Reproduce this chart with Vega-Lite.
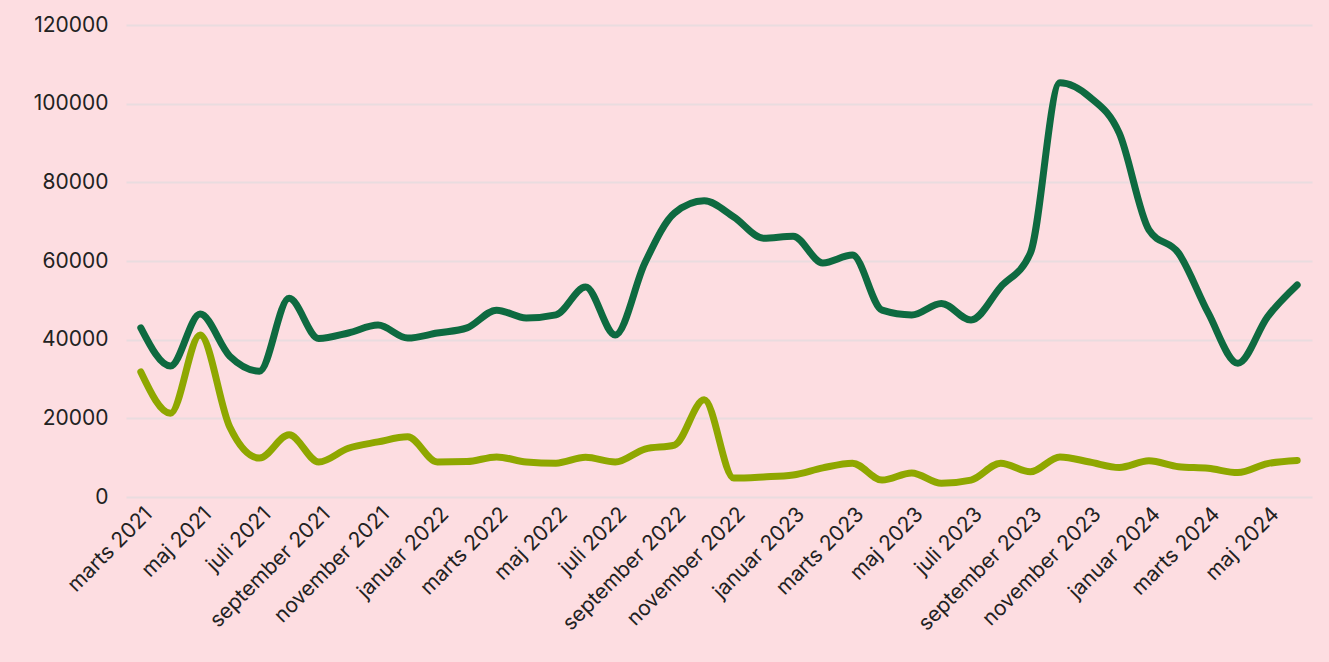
{
  "$schema": "https://vega.github.io/schema/vega-lite/v6.json",
  "width": 1186,
  "height": 472,
  "autosize": {"type": "none"},
  "padding": {"left": 126, "top": 25, "right": 17, "bottom": 165},
  "background": "#fddde1",
  "config": {
    "view": {"stroke": null},
    "font": "Inter",
    "axis": {"labelFont": "Inter", "labelColor": "#222222", "labelFontSize": 21, "domain": false, "ticks": false}
  },
  "data": {
    "values": [
      {"m": "marts 2021", "s": "A", "v": 43000}, {"m": "april 2021", "s": "A", "v": 33300},
      {"m": "maj 2021", "s": "A", "v": 46500}, {"m": "juni 2021", "s": "A", "v": 35800},
      {"m": "juli 2021", "s": "A", "v": 32000}, {"m": "august 2021", "s": "A", "v": 50500},
      {"m": "september 2021", "s": "A", "v": 40300}, {"m": "oktober 2021", "s": "A", "v": 41700},
      {"m": "november 2021", "s": "A", "v": 43700}, {"m": "december 2021", "s": "A", "v": 40400},
      {"m": "januar 2022", "s": "A", "v": 41700}, {"m": "februar 2022", "s": "A", "v": 43000},
      {"m": "marts 2022", "s": "A", "v": 47500}, {"m": "april 2022", "s": "A", "v": 45500},
      {"m": "maj 2022", "s": "A", "v": 46300}, {"m": "juni 2022", "s": "A", "v": 53400},
      {"m": "juli 2022", "s": "A", "v": 41200}, {"m": "august 2022", "s": "A", "v": 59500},
      {"m": "september 2022", "s": "A", "v": 72200}, {"m": "oktober 2022", "s": "A", "v": 75300},
      {"m": "november 2022", "s": "A", "v": 71200}, {"m": "december 2022", "s": "A", "v": 65800},
      {"m": "januar 2023", "s": "A", "v": 66300}, {"m": "februar 2023", "s": "A", "v": 59500},
      {"m": "marts 2023", "s": "A", "v": 61500}, {"m": "april 2023", "s": "A", "v": 47500},
      {"m": "maj 2023", "s": "A", "v": 46300}, {"m": "juni 2023", "s": "A", "v": 49200},
      {"m": "juli 2023", "s": "A", "v": 45000}, {"m": "august 2023", "s": "A", "v": 53400},
      {"m": "september 2023", "s": "A", "v": 62000}, {"m": "oktober 2023", "s": "A", "v": 105300},
      {"m": "november 2023", "s": "A", "v": 101700}, {"m": "december 2023", "s": "A", "v": 92500},
      {"m": "januar 2024", "s": "A", "v": 67900}, {"m": "februar 2024", "s": "A", "v": 62000},
      {"m": "marts 2024", "s": "A", "v": 46800}, {"m": "april 2024", "s": "A", "v": 34000},
      {"m": "maj 2024", "s": "A", "v": 45800}, {"m": "juni 2024", "s": "A", "v": 53900},
      {"m": "marts 2021", "s": "B", "v": 31800}, {"m": "april 2021", "s": "B", "v": 21300},
      {"m": "maj 2021", "s": "B", "v": 41200}, {"m": "juni 2021", "s": "B", "v": 17800},
      {"m": "juli 2021", "s": "B", "v": 9900}, {"m": "august 2021", "s": "B", "v": 15800},
      {"m": "september 2021", "s": "B", "v": 8900}, {"m": "oktober 2021", "s": "B", "v": 12400},
      {"m": "november 2021", "s": "B", "v": 14000}, {"m": "december 2021", "s": "B", "v": 15300},
      {"m": "januar 2022", "s": "B", "v": 8900}, {"m": "februar 2022", "s": "B", "v": 9000},
      {"m": "marts 2022", "s": "B", "v": 10200}, {"m": "april 2022", "s": "B", "v": 8900},
      {"m": "maj 2022", "s": "B", "v": 8600}, {"m": "juni 2022", "s": "B", "v": 10100},
      {"m": "juli 2022", "s": "B", "v": 8900}, {"m": "august 2022", "s": "B", "v": 12200},
      {"m": "september 2022", "s": "B", "v": 13200}, {"m": "oktober 2022", "s": "B", "v": 24700},
      {"m": "november 2022", "s": "B", "v": 4800}, {"m": "december 2022", "s": "B", "v": 5100},
      {"m": "januar 2023", "s": "B", "v": 5600}, {"m": "februar 2023", "s": "B", "v": 7400},
      {"m": "marts 2023", "s": "B", "v": 8600}, {"m": "april 2023", "s": "B", "v": 4300},
      {"m": "maj 2023", "s": "B", "v": 6100}, {"m": "juni 2023", "s": "B", "v": 3500},
      {"m": "juli 2023", "s": "B", "v": 4300}, {"m": "august 2023", "s": "B", "v": 8600},
      {"m": "september 2023", "s": "B", "v": 6400}, {"m": "oktober 2023", "s": "B", "v": 10200},
      {"m": "november 2023", "s": "B", "v": 8900}, {"m": "december 2023", "s": "B", "v": 7500},
      {"m": "januar 2024", "s": "B", "v": 9200}, {"m": "februar 2024", "s": "B", "v": 7700},
      {"m": "marts 2024", "s": "B", "v": 7300}, {"m": "april 2024", "s": "B", "v": 6200},
      {"m": "maj 2024", "s": "B", "v": 8500}, {"m": "juni 2024", "s": "B", "v": 9300}
    ]
  },
  "mark": {"type": "line", "interpolate": "monotone", "strokeWidth": 7, "strokeCap": "round", "strokeJoin": "round"},
  "encoding": {
    "x": {
      "field": "m", "type": "ordinal", "sort": null,
      "scale": {"type": "point", "padding": 0.5},
      "axis": {
        "title": null, "grid": false, "labelAngle": -45, "labelPadding": 6,
        "values": ["marts 2021", "maj 2021", "juli 2021", "september 2021", "november 2021", "januar 2022", "marts 2022", "maj 2022", "juli 2022", "september 2022", "november 2022", "januar 2023", "marts 2023", "maj 2023", "juli 2023", "september 2023", "november 2023", "januar 2024", "marts 2024", "maj 2024"]
      }
    },
    "y": {
      "field": "v", "type": "quantitative",
      "scale": {"domain": [0, 120000]},
      "axis": {"title": null, "values": [0, 20000, 40000, 60000, 80000, 100000, 120000], "format": "d", "gridColor": "#e9dcdf", "gridWidth": 2, "labelPadding": 18}
    },
    "color": {"field": "s", "type": "nominal", "legend": null, "scale": {"domain": ["A", "B"], "range": ["#0e6a40", "#8fa700"]}}
  }
}
